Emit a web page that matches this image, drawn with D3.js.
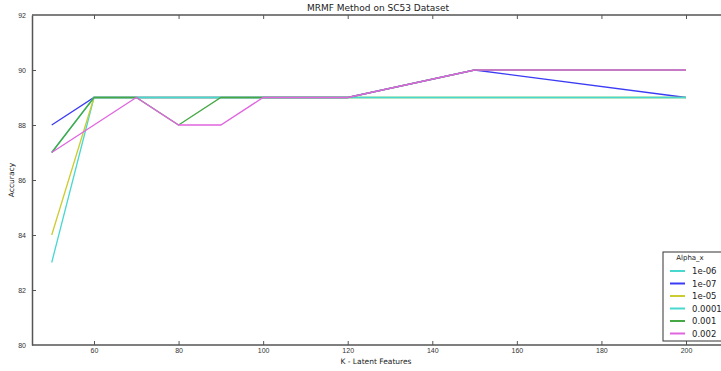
<!DOCTYPE html>
<html>
<head>
<meta charset="utf-8">
<script src="https://cdn.jsdelivr.net/npm/d3@7"></script>
<style>
  html, body { margin: 0; padding: 0; background: #fff; overflow: hidden; }
  svg { display: block; font-family: "DejaVu Sans", sans-serif; }
  .axis path, .axis line { stroke: #555; }
  .axis text { fill: #333; font-size: 7px; }
</style>
</head>
<body>
<svg id="chart" width="721" height="371"></svg>
<script>
// ── Data ─────────────────────────────────────────────────────────────────────

const kValues = [50, 60, 70, 80, 90, 100, 120, 150, 200];
const seriesNames = ["1e-06", "1e-07", "1e-05", "0.0001", "0.001", "0.002"];
const seriesColors = ["#48d8d0", "#3b3bf5", "#cccc30", "#48d8d0", "#45a845", "#e066e0"];

const acc1e06 = [83, 89, 89, 89, 89, 89, 89, 89, 89];
const acc1e07 = [88, 89, 89, 89, 89, 89, 89, 90, 89];
const acc1e05 = [84, 89, 89, 89, 89, 89, 89, 89, 89];
const acc0001 = [87, 89, 89, 89, 89, 89, 89, 89, 89];
const acc001 = [87, 89, 89, 88, 89, 89, 89, 90, 90];
const acc002 = [87, 88, 89, 88, 88, 89, 89, 90, 90];
const seriesValues = [acc1e06, acc1e07, acc1e05, acc0001, acc001, acc002];

const xTicks = [60, 80, 100, 120, 140, 160, 180, 200];
const yTicks = [80, 82, 84, 86, 88, 90, 92];

// ── Layout ───────────────────────────────────────────────────────────────────

const svg = d3.select("#chart");
const plotLeft = 32, plotTop = 15, plotBottom = 345;

// plot is cropped on the right, the axes run past the window edge
const x = d3.scaleLinear().domain([60, 200]).range([94, 686]);
const xMax = x.invert(760);
const y = d3.scaleLinear().domain([80, 92]).range([plotBottom, plotTop]);

// ── Lines ────────────────────────────────────────────────────────────────────

const line = d3.line()
  .x((d) => x(d[0]))
  .y((d) => y(d[1]));

seriesValues.forEach((vals, i) => {
  svg.append("path")
    .datum(kValues.map((k, j) => [k, vals[j]]))
    .attr("fill", "none")
    .attr("stroke", seriesColors[i])
    .attr("stroke-width", 1.3)
    .attr("d", line);
});

// ── Axes ─────────────────────────────────────────────────────────────────────

const xBottom = svg.append("g")
  .attr("class", "axis")
  .attr("transform", `translate(0,${plotBottom})`)
  .call(d3.axisBottom(x).tickValues(xTicks).tickSizeInner(-4).tickSizeOuter(0).tickPadding(3));
xBottom.select(".domain").attr("d", `M${plotLeft},0H${x(xMax)}`).attr("stroke-width", 1.5);

const xTop = svg.append("g")
  .attr("class", "axis")
  .attr("transform", `translate(0,${plotTop})`)
  .call(d3.axisTop(x).tickValues(xTicks).tickSizeInner(-4).tickSizeOuter(0).tickFormat(""));
xTop.select(".domain").attr("d", `M${plotLeft},0H${x(xMax)}`).attr("stroke-width", 1.5);

const yAxis = svg.append("g")
  .attr("class", "axis")
  .attr("transform", `translate(${plotLeft},0)`)
  .call(d3.axisLeft(y).tickValues(yTicks).tickSizeInner(-4).tickSizeOuter(0).tickPadding(6));
yAxis.select(".domain").attr("stroke-width", 1.5);
yAxis.selectAll(".tick line").filter((d) => d === 80 || d === 92).remove();

// ── Labels ───────────────────────────────────────────────────────────────────

svg.append("text")
  .attr("x", 378).attr("y", 11)
  .attr("text-anchor", "middle")
  .attr("font-size", 9)
  .attr("fill", "#222")
  .text("MRMF Method on SC53 Dataset");

svg.append("text")
  .attr("x", 376).attr("y", 364)
  .attr("text-anchor", "middle")
  .attr("font-size", 7.5)
  .attr("fill", "#222")
  .text("K - Latent Features");

svg.append("text")
  .attr("transform", "translate(14,180) rotate(-90)")
  .attr("text-anchor", "middle")
  .attr("font-size", 7.5)
  .attr("fill", "#222")
  .text("Accuracy");

// ── Legend ───────────────────────────────────────────────────────────────────

const legend = svg.append("g").attr("transform", "translate(663,252)");
legend.append("rect")
  .attr("width", 80).attr("height", 89)
  .attr("fill", "#fff")
  .attr("stroke", "#333")
  .attr("stroke-width", 1);
legend.append("text")
  .attr("x", 27).attr("y", 8)
  .attr("text-anchor", "middle")
  .attr("font-size", 7)
  .attr("fill", "#222")
  .text("Alpha_x");

seriesNames.forEach((name, i) => {
  const cy = 19 + i * 12.5;
  legend.append("line")
    .attr("x1", 7).attr("x2", 22)
    .attr("y1", cy).attr("y2", cy)
    .attr("stroke", seriesColors[i])
    .attr("stroke-width", 2);
  legend.append("text")
    .attr("x", 29).attr("y", cy + 3)
    .attr("font-size", 8.5)
    .attr("fill", "#222")
    .text(name);
});
</script>
</body>
</html>
